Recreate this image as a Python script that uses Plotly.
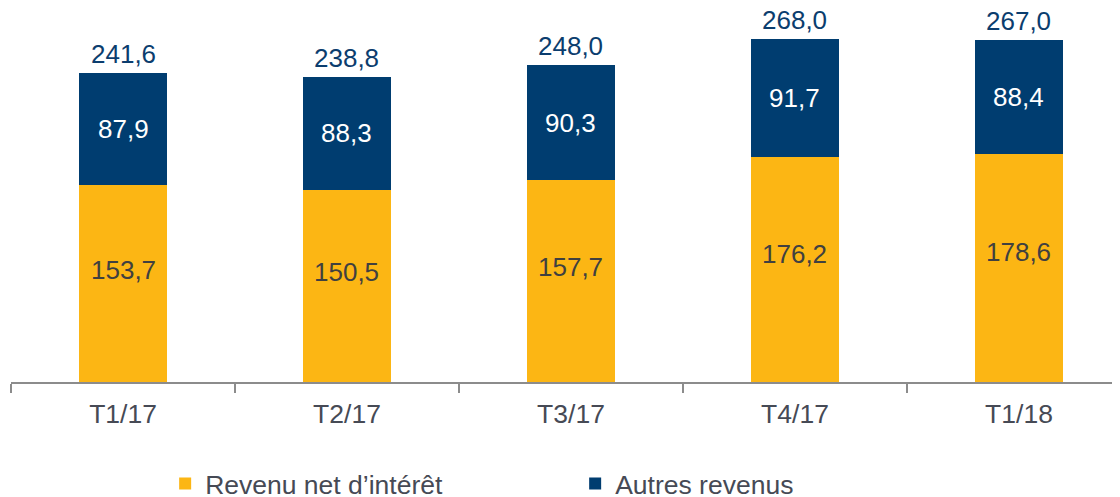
import plotly.graph_objects as go

categories = ["T1/17", "T2/17", "T3/17", "T4/17", "T1/18"]
revenu_net = [153.7, 150.5, 157.7, 176.2, 178.6]
autres = [87.9, 88.3, 90.3, 91.7, 88.4]
totals = [241.6, 238.8, 248.0, 268.0, 267.0]

YELLOW = "#FCB614"
NAVY = "#003D70"
FONT = "Liberation Sans, Arial, sans-serif"

def fr(v):
    return f"{v:.1f}".replace(".", ",")

fig = go.Figure()
fig.add_bar(x=categories, y=revenu_net, name="Revenu net d’intérêt",
            marker=dict(color=YELLOW, line=dict(width=0)))
fig.add_bar(x=categories, y=autres, name="Autres revenus",
            marker=dict(color=NAVY, line=dict(width=0)))

ann = []
for c, a, b, t in zip(categories, revenu_net, autres, totals):
    ann.append(dict(x=c, y=a * 0.57, text=fr(a), showarrow=False,
                    font=dict(family=FONT, size=26, color="#404040")))
    ann.append(dict(x=c, y=a + b / 2, text=fr(b), showarrow=False,
                    font=dict(family=FONT, size=26, color="white")))
    ann.append(dict(x=c, y=t, text=fr(t), showarrow=False, yanchor="bottom", yshift=2,
                    font=dict(family=FONT, size=26, color="#0B3D6E")))

fig.update_layout(
    barmode="stack",
    bargap=0.61,
    width=1112, height=489,
    margin=dict(l=3, r=0, t=0, b=115, autoexpand=False),
    plot_bgcolor="white", paper_bgcolor="white",
    font=dict(family=FONT, size=26, color="#464A55"),
    annotations=ann,
    showlegend=True,
    legend=dict(orientation="h", x=0.139, xanchor="left", y=-0.272, yanchor="middle",
                entrywidth=365, entrywidthmode="pixels",
                font=dict(family=FONT, size=26.5, color="#464A55"),
                traceorder="normal"),
    xaxis=dict(type="category", range=[-0.5, 4.451], showline=True, linecolor="#8C8C8C",
               linewidth=2, ticks="outside", tickson="boundaries", ticklen=9,
               tickcolor="#8C8C8C", tickwidth=2, showgrid=False, automargin=False,
               ticklabelstandoff=7,
               tickfont=dict(family=FONT, size=26.5, color="#464A55")),
    yaxis=dict(range=[0, 292.4], visible=False, showgrid=False, zeroline=False,
               automargin=False),
)

fig.write_html("out.html")
